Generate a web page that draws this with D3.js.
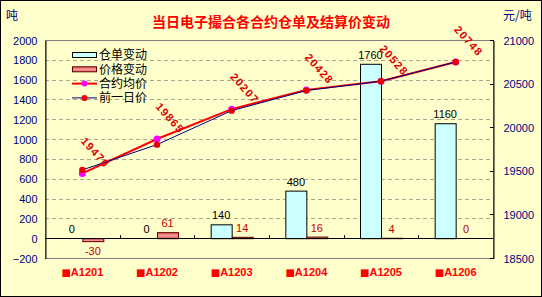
<!DOCTYPE html>
<html>
<head>
<meta charset="utf-8">
<script src="https://cdn.jsdelivr.net/npm/d3@7/dist/d3.min.js"></script>
<style>
  body { margin: 0; background: #fff; }
  svg { display: block; }
  text { font-family: "Liberation Sans", Arial, sans-serif; }
  .cjk { font-family: "Noto Sans CJK SC", sans-serif; }
</style>
</head>
<body>
<div id="chart"></div>
<script>
// data
var contracts = ["■A1201", "■A1202", "■A1203", "■A1204", "■A1205", "■A1206"];
var warrantChange = [0, 0, 140, 480, 1760, 1160];   // 仓单变动
var priceChange = [-30, 61, 14, 16, 4, 0];          // 价格变动
var avgPrice = [19470, 19865, 20207, 20428, 20528, 20748];  // 合约均价
var prevPrice = [19510, 19800, 20190, 20420, 20528, 20748]; // 前一日价
var leftTicks = [-200, 0, 200, 400, 600, 800, 1000, 1200, 1400, 1600, 1800, 2000];
var rightTicks = [18500, 19000, 19500, 20000, 20500, 21000];
var legendNames = ["仓单变动", "价格变动", "合约均价", "前一日价"];

var W = 542, H = 297;
var plotL = 45, plotR = 493, plotT = 40, plotB = 258;

var svg = d3.select("#chart").append("svg")
  .attr("width", W)
  .attr("height", H);

var defs = svg.append("defs");
var grad = defs.append("linearGradient").attr("id", "pg")
  .attr("x1", 0).attr("y1", 0).attr("x2", 0).attr("y2", 1);
grad.append("stop").attr("offset", "0%").attr("stop-color", "#e45454");
grad.append("stop").attr("offset", "50%").attr("stop-color", "#ff9c9c");
grad.append("stop").attr("offset", "100%").attr("stop-color", "#e46060");

// background + outer border
svg.append("rect").attr("x", 0.5).attr("y", 0.5).attr("width", W - 1).attr("height", H - 1)
  .attr("fill", "#ffffcc").attr("stroke", "#000");

// scales
var x = d3.scaleBand().domain(contracts).range([plotL, plotR]);
var half = 21;
var sub = d3.scaleBand().domain(["w", "p"])
  .range([x.bandwidth() / 2 - half, x.bandwidth() / 2 + half]);
var yL = d3.scaleLinear().domain([-200, 2000]).range([plotB, plotT]);
var yR = d3.scaleLinear().domain([18500, 21000]).range([plotB, plotT]);

// gridlines
svg.append("g").selectAll("line")
  .data(leftTicks.filter(function(t) { return t > -200 && t < 2000 && t !== 0; }))
  .enter().append("line")
  .attr("x1", plotL).attr("x2", plotR)
  .attr("y1", function(d) { return Math.round(yL(d)) + 0.5; })
  .attr("y2", function(d) { return Math.round(yL(d)) + 0.5; })
  .attr("stroke", "#a8a890").attr("stroke-dasharray", "4,3");

// plot box
svg.append("rect").attr("x", plotL + 0.5).attr("y", plotT + 0.5)
  .attr("width", plotR - plotL).attr("height", plotB - plotT)
  .attr("fill", "none").attr("stroke", "#808080");

// left axis
var axL = svg.append("g").attr("transform", "translate(" + (plotL + 0.5) + ",0.5)")
  .call(d3.axisLeft(yL).tickValues(leftTicks).tickFormat(d3.format("d"))
    .tickSize(0).tickPadding(8));
axL.select(".domain").attr("stroke", "#000");
axL.selectAll("text").attr("fill", "#000080").attr("font-size", 11);

// right axis
var axR = svg.append("g").attr("transform", "translate(" + (plotR + 0.5) + ",0.5)")
  .call(d3.axisRight(yR).tickValues(rightTicks).tickFormat(d3.format("d"))
    .tickSize(0).tickPadding(10));
axR.select(".domain").attr("stroke", "#000");
axR.selectAll("text").attr("fill", "#000080").attr("font-size", 11);
svg.append("g").selectAll("line").data(rightTicks).enter().append("line")
  .attr("x1", plotR - 3).attr("x2", plotR + 1)
  .attr("y1", function(d) { return Math.round(yR(d)) + 0.5; })
  .attr("y2", function(d) { return Math.round(yR(d)) + 0.5; })
  .attr("stroke", "#000");

// bars
var bars = svg.append("g");
bars.selectAll("rect.w").data(warrantChange).enter().append("rect")
  .attr("class", "w")
  .attr("x", function(d, i) { return x(contracts[i]) + sub("w") + 0.5; })
  .attr("width", sub.bandwidth())
  .attr("y", function(d) { return Math.min(yL(d), yL(0)) + 0.5; })
  .attr("height", function(d) { return Math.abs(yL(d) - yL(0)); })
  .attr("fill", "#ccffff").attr("stroke", "#000");
bars.selectAll("rect.p").data(priceChange).enter().append("rect")
  .attr("class", "p")
  .attr("x", function(d, i) { return x(contracts[i]) + sub("p") + 0.5; })
  .attr("width", sub.bandwidth())
  .attr("y", function(d) { return Math.min(yL(d), yL(0)) + 0.5; })
  .attr("height", function(d) { return Math.abs(yL(d) - yL(0)); })
  .attr("fill", "url(#pg)").attr("stroke", "#600000");

// zero line + category ticks
svg.append("line").attr("x1", plotL).attr("x2", plotR)
  .attr("y1", Math.round(yL(0)) + 0.5).attr("y2", Math.round(yL(0)) + 0.5)
  .attr("stroke", "#000");
svg.append("g").selectAll("line").data(contracts.slice(1)).enter().append("line")
  .attr("x1", function(d) { return Math.round(x(d)) + 0.5; })
  .attr("x2", function(d) { return Math.round(x(d)) + 0.5; })
  .attr("y1", yL(0) - 3).attr("y2", yL(0) + 0.5)
  .attr("stroke", "#000");

// bar labels
bars.selectAll("text.w").data(warrantChange).enter().append("text")
  .attr("x", function(d, i) { return x(contracts[i]) + sub("w") + sub.bandwidth() / 2; })
  .attr("y", function(d) { return yL(Math.max(d, 0)) - 5; })
  .attr("text-anchor", "middle").attr("font-size", 11).attr("fill", "#000")
  .text(function(d) { return d; });
bars.selectAll("text.p").data(priceChange).enter().append("text")
  .attr("x", function(d, i) { return x(contracts[i]) + sub("p") + sub.bandwidth() / 2; })
  .attr("y", function(d) { return d < 0 ? yL(d) + 14 : yL(d) - 5; })
  .attr("text-anchor", "middle").attr("font-size", 11).attr("fill", "#c00000")
  .text(function(d) { return d; });

// lines
var cx = function(d, i) { return x(contracts[i]) + x.bandwidth() / 2; };
var priceLine = d3.line().x(cx).y(function(d) { return yR(d); });
svg.append("path").datum(avgPrice).attr("d", priceLine)
  .attr("fill", "none").attr("stroke", "#ff0000").attr("stroke-width", 2);
svg.append("g").selectAll("circle").data(avgPrice).enter().append("circle")
  .attr("cx", cx).attr("cy", function(d) { return yR(d); }).attr("r", 3.5)
  .attr("fill", "#ff00ff");
svg.append("path").datum(prevPrice).attr("d", priceLine)
  .attr("fill", "none").attr("stroke", "#000080").attr("stroke-width", 1);
svg.append("g").selectAll("circle").data(prevPrice).enter().append("circle")
  .attr("cx", cx).attr("cy", function(d) { return yR(d); }).attr("r", 3.2)
  .attr("fill", "#e60000");

// rotated price labels
svg.append("g").selectAll("text").data(avgPrice).enter().append("text")
  .attr("transform", function(d, i) {
    return "translate(" + (cx(d, i) + 13) + "," + (yR(d) - 21) + ") rotate(48)";
  })
  .attr("text-anchor", "middle").attr("dy", "0.35em")
  .attr("font-size", 11).attr("font-weight", "bold").attr("letter-spacing", 1.2)
  .attr("fill", "#e00000")
  .text(function(d) { return d; });

// category labels
var cat = svg.append("g").selectAll("text").data(contracts).enter().append("text")
  .attr("x", function(d) { return x(d) + x.bandwidth() / 2; })
  .attr("y", 276)
  .attr("text-anchor", "middle").attr("font-size", 11).attr("font-weight", "bold")
  .attr("fill", "#ff0000");
cat.append("tspan").attr("font-family", "DejaVu Sans").attr("font-size", 10)
  .text(function(d) { return d.slice(0, 1); });
cat.append("tspan").text(function(d) { return d.slice(1); });

// titles
svg.append("text").attr("class", "cjk").attr("x", 271).attr("y", 27)
  .attr("text-anchor", "middle").attr("font-size", 14).attr("font-weight", "bold")
  .attr("fill", "#ff0000").text("当日电子撮合各合约仓单及结算价变动");
svg.append("text").attr("class", "cjk").attr("x", 6).attr("y", 20)
  .attr("font-size", 12).attr("fill", "#000080").text("吨");
svg.append("text").attr("class", "cjk").attr("x", 503).attr("y", 20)
  .attr("font-size", 12).attr("fill", "#000080").text("元/吨");

// legend
var lg = svg.append("g").attr("transform", "translate(72,55)");
var rowH = 14.3;
lg.append("rect").attr("x", 0.5).attr("y", -2.5).attr("width", 24).attr("height", 5)
  .attr("fill", "#ccffff").attr("stroke", "#000");
lg.append("rect").attr("x", 0.5).attr("y", rowH - 2.5).attr("width", 24).attr("height", 5)
  .attr("fill", "url(#pg)").attr("stroke", "#600000");
lg.append("line").attr("x1", 0).attr("x2", 25).attr("y1", rowH * 2).attr("y2", rowH * 2)
  .attr("stroke", "#ff0000").attr("stroke-width", 2);
lg.append("circle").attr("cx", 12.5).attr("cy", rowH * 2).attr("r", 3).attr("fill", "#ff00ff");
lg.append("line").attr("x1", 0).attr("x2", 25).attr("y1", rowH * 3).attr("y2", rowH * 3)
  .attr("stroke", "#000080").attr("stroke-width", 1);
lg.append("circle").attr("cx", 12.5).attr("cy", rowH * 3).attr("r", 3).attr("fill", "#e60000");
lg.selectAll("text").data(legendNames).enter().append("text")
  .attr("class", "cjk")
  .attr("x", 27).attr("y", function(d, i) { return i * rowH; })
  .attr("dy", "0.36em").attr("font-size", 12).attr("fill", "#000")
  .text(function(d) { return d; });
</script>
</body>
</html>
